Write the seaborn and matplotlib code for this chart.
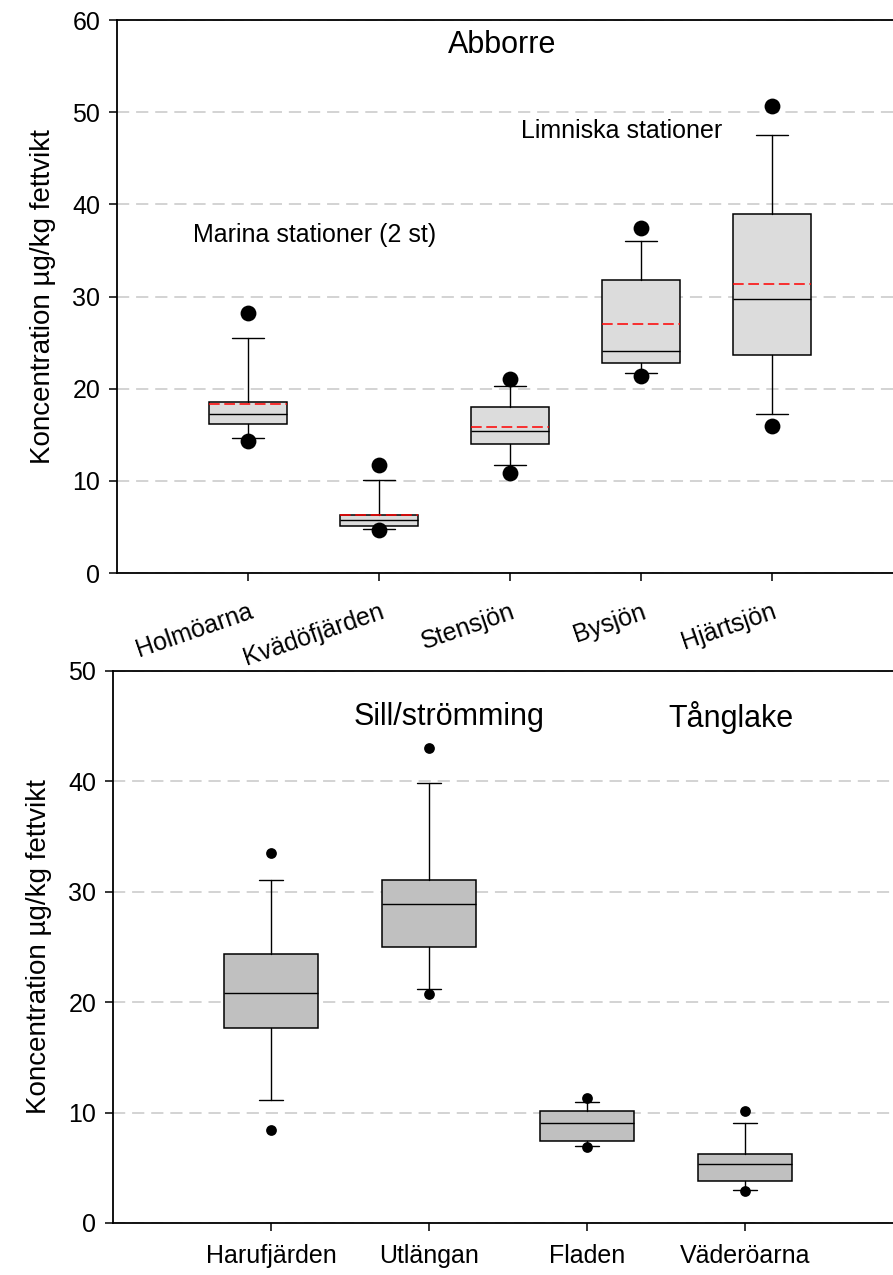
import matplotlib
matplotlib.use("Agg")
import pandas as pd
import matplotlib.pyplot as plt
import seaborn as sns

# Abborre (övre panelen)
abb_sites = ["Holmöarna", "Kvädöfjärden", "Stensjön", "Bysjön", "Hjärtsjön"]
abb_q1 = [16.2, 5.1, 14.0, 22.8, 23.6]
abb_med = [17.2, 5.7, 15.4, 24.1, 29.7]
abb_q3 = [18.5, 6.3, 18.0, 31.8, 39.0]
abb_mean = [18.3, 6.3, 15.8, 27.0, 31.4]
abb_wlo = [14.7, 4.8, 11.7, 21.7, 17.3]
abb_whi = [25.5, 10.1, 20.3, 36.0, 47.5]
abb_plo = [14.3, 4.7, 10.9, 21.4, 15.9]
abb_phi = [28.2, 11.7, 21.1, 37.4, 50.7]

# Sill/strömming och tånglake (nedre panelen)
sill_sites = ["Harufjärden", "Utlängan", "Fladen", "Väderöarna"]
sill_q1 = [17.7, 25.0, 7.4, 3.8]
sill_med = [20.8, 28.9, 9.1, 5.3]
sill_q3 = [24.4, 31.1, 10.1, 6.25]
sill_wlo = [11.1, 21.2, 7.0, 3.0]
sill_whi = [31.1, 39.9, 11.0, 9.1]
sill_plo = [8.4, 20.7, 6.9, 2.9]
sill_phi = [33.5, 43.05, 11.35, 10.1]

sns.set_style("ticks")
plt.rcParams['font.family'] = ['Liberation Sans', 'DejaVu Sans']
plt.rcParams.update({"text.color": "black", "axes.labelcolor": "black",
                     "xtick.color": "black", "ytick.color": "black",
                     "axes.edgecolor": "black"})

W, H = 893, 1275
fig = plt.figure(figsize=(W / 100, H / 100), dpi=100)
ax1 = fig.add_axes([117 / W, 1 - 573 / H, 1 - 117 / W, (573 - 20) / H])
ax2 = fig.add_axes([113 / W, 1 - 1223 / H, 1 - 113 / W, (1223 - 671) / H])


def stats_list(q1, med, q3, wlo, whi, mean=None):
    out = []
    for i in range(len(q1)):
        d = dict(q1=q1[i], med=med[i], q3=q3[i], whislo=wlo[i], whishi=whi[i], fliers=[])
        if mean is not None:
            d["mean"] = mean[i]
        out.append(d)
    return out


def draw_panel(ax, sites, stats, plo, phi, fill, capw, dot_s, ymax, xmax, showmean):
    pos = list(range(1, len(sites) + 1))
    ax.yaxis.grid(True, color="#c8c8c8", linestyle=(0, (8, 4.5)), linewidth=1.1)
    ax.set_axisbelow(True)
    ax.bxp(stats, positions=pos, widths=0.6, capwidths=capw, showfliers=False,
           showmeans=showmean, meanline=True, patch_artist=True,
           boxprops=dict(facecolor=fill, edgecolor="black", linewidth=1.1),
           medianprops=dict(color="black", linewidth=1.0),
           meanprops=dict(color="red", linestyle=(0, (7, 3)), linewidth=1.1),
           whiskerprops=dict(color="black", linewidth=1.0),
           capprops=dict(color="black", linewidth=1.0))
    pts = pd.DataFrame({"x": pos + pos, "y": list(plo) + list(phi)})
    sns.scatterplot(data=pts, x="x", y="y", ax=ax, color="black", s=dot_s,
                    linewidth=0, zorder=5, legend=False)
    ax.set_xlim(0, xmax)
    ax.set_ylim(0, ymax)
    ax.set_yticks(range(0, ymax + 1, 10))
    ax.set_xticks(pos)
    ax.set_xticklabels(sites)
    ax.set_xlabel("")
    ax.set_ylabel("Koncentration µg/kg fettvikt", fontsize=20, labelpad=12)
    ax.spines["right"].set_visible(False)
    for s in ["top", "left", "bottom"]:
        ax.spines[s].set_linewidth(1.3)
    ax.tick_params(axis="both", direction="out", length=6, width=1.1,
                   labelsize=18, pad=6)


draw_panel(ax1, abb_sites,
           stats_list(abb_q1, abb_med, abb_q3, abb_wlo, abb_whi, abb_mean),
           abb_plo, abb_phi, "#dcdcdc", 0.25, 130, 60, (893 - 117) / 131, True)
ax1.tick_params(axis="x", pad=13)
plt.setp(ax1.get_xticklabels(), rotation=19, ha="right", rotation_mode="anchor")
ax1.text(2.94, 57.3, "Abborre", fontsize=22, ha="center", va="center")
ax1.text(3.85, 48.0, "Limniska stationer", fontsize=18, ha="center", va="center")
ax1.text(1.51, 36.7, "Marina stationer (2 st)", fontsize=18, ha="center", va="center")

draw_panel(ax2, sill_sites,
           stats_list(sill_q1, sill_med, sill_q3, sill_wlo, sill_whi),
           sill_plo, sill_phi, "#c0c0c0", 0.15, 60, 50, (893 - 113) / 158, False)
ax2.tick_params(axis="x", pad=9)
ax2.text(2.13, 45.8, "Sill/strömming", fontsize=22, ha="center", va="center")
ax2.text(3.91, 45.8, "Tånglake", fontsize=22, ha="center", va="center")

fig.savefig("out.png", dpi=100)
